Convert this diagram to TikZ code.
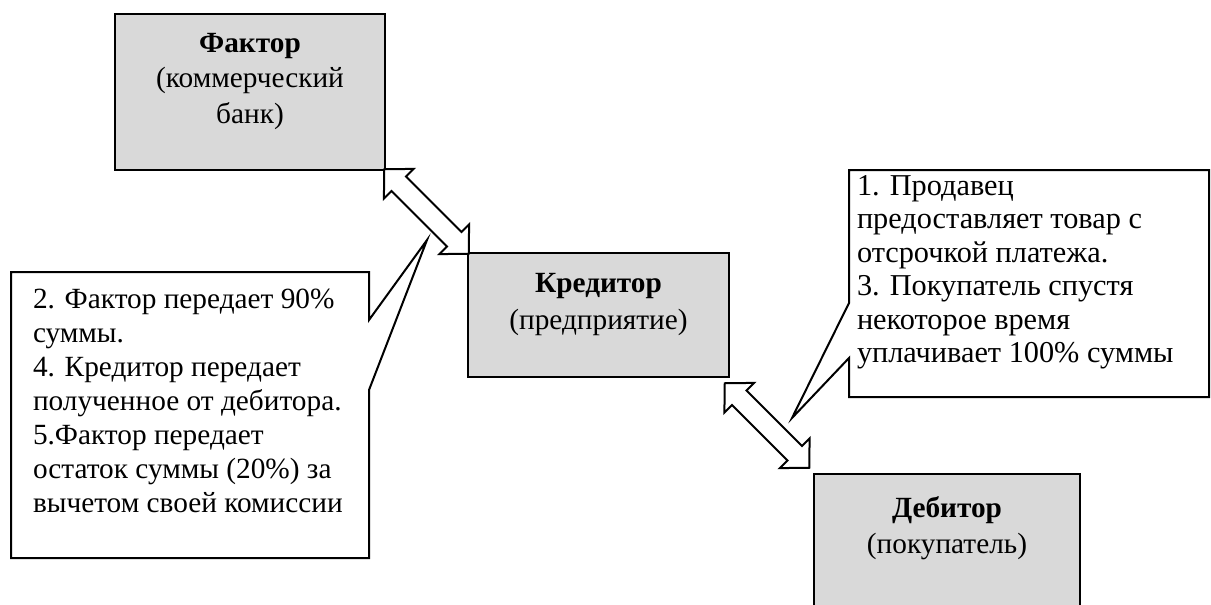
\documentclass[tikz,border=0pt]{standalone}
\usepackage{fontspec}
\setmainfont{Liberation Serif}
\usetikzlibrary{calc}
\definecolor{boxgray}{RGB}{217,217,217}
\begin{document}
\begin{tikzpicture}[x=1pt,y=-1pt,line width=2pt,
  box/.style={draw=black,fill=boxgray,rectangle,inner sep=0pt},
  callout/.style={draw=black,fill=white,line join=miter},
  dbl/.style={draw=black,fill=white,line join=miter},
  txt/.style={inner sep=0pt,anchor=base,font=\fontsize{29.3}{34}\selectfont},
  ltxt/.style={inner sep=0pt,anchor=base west,font=\fontsize{29.3}{34}\selectfont},
  rtxt/.style={inner sep=0pt,anchor=base west,font=\fontsize{30.3}{34}\selectfont}]
\useasboundingbox (0,0) rectangle (1211,605);
\clip (0,0) rectangle (1211,605);
% boxes
\node[box,minimum width=270pt,minimum height=156pt] (fac) at (250,92) {};
\node[box,minimum width=261pt,minimum height=124pt] (cred) at (598.5,315) {};
\node[box,minimum width=266pt,minimum height=150pt] (deb) at (947,549) {};
% box texts
\node[txt,font=\fontsize{29.3}{34}\selectfont\bfseries] (fac1) at (250,52) {Фактор};
\node[txt] (fac2) at (250,87) {(коммерческий};
\node[txt] (fac3) at (250,123) {банк)};
\node[txt,font=\fontsize{29.3}{34}\selectfont\bfseries] (cred1) at (598.5,292) {Кредитор};
\node[txt] (cred2) at (598.5,329) {(предприятие)};
\node[txt,font=\fontsize{29.3}{34}\selectfont\bfseries] (deb1) at (947,517) {Дебитор};
\node[txt] (deb2) at (947,553) {(покупатель)};
% double arrows
\begin{scope}[shift={($(fac.south east)!0.5!(cred.north west)$)},rotate=-45]
\draw[dbl] (-59.75,0) -- (-39.25,21) -- (-39.25,10.25) -- (39.25,10.25) -- (39.25,21) -- (59.75,0)
  -- (39.25,-21) -- (39.25,-10.25) -- (-39.25,-10.25) -- (-39.25,-21) -- cycle;
\end{scope}
\begin{scope}[shift={($(cred.south east)!0.5!(deb.north west)+(-4.5,0)$)},rotate=-45]
\draw[dbl] (-59.75,0) -- (-39.25,21) -- (-39.25,10.25) -- (39.25,10.25) -- (39.25,21) -- (59.75,0)
  -- (39.25,-21) -- (39.25,-10.25) -- (-39.25,-10.25) -- (-39.25,-21) -- cycle;
\end{scope}
% callouts
\coordinate (ltip) at (427,240);
\coordinate (rtip) at (792,418);
\draw[callout] (11,272) -- (369,272) -- (369,320) -- (ltip) -- (369,390) -- (369,558) -- (11,558) -- cycle;
\draw[callout] (849,170) -- (1209,170) -- (1209,397) -- (849,397) -- (849,358) -- (rtip) -- (849,303) -- cycle;
% callout texts
\foreach \t [count=\i from 0] in {{2. Фактор передает 90\%},{суммы.},{4. Кредитор передает},{полученное от дебитора.},{5.Фактор передает},{остаток суммы (20\%) за},{вычетом своей комиссии}}
  \node[ltxt] (l\i) at (32,308+34*\i) {\t};
\foreach \t [count=\i from 0] in {{1. Продавец},{предоставляет товар с},{отсрочкой платежа.},{3. Покупатель спустя},{некоторое время},{уплачивает 100\% суммы}}
  \node[rtxt] (r\i) at (856,195+33.5*\i) {\t};
\end{tikzpicture}
\end{document}
